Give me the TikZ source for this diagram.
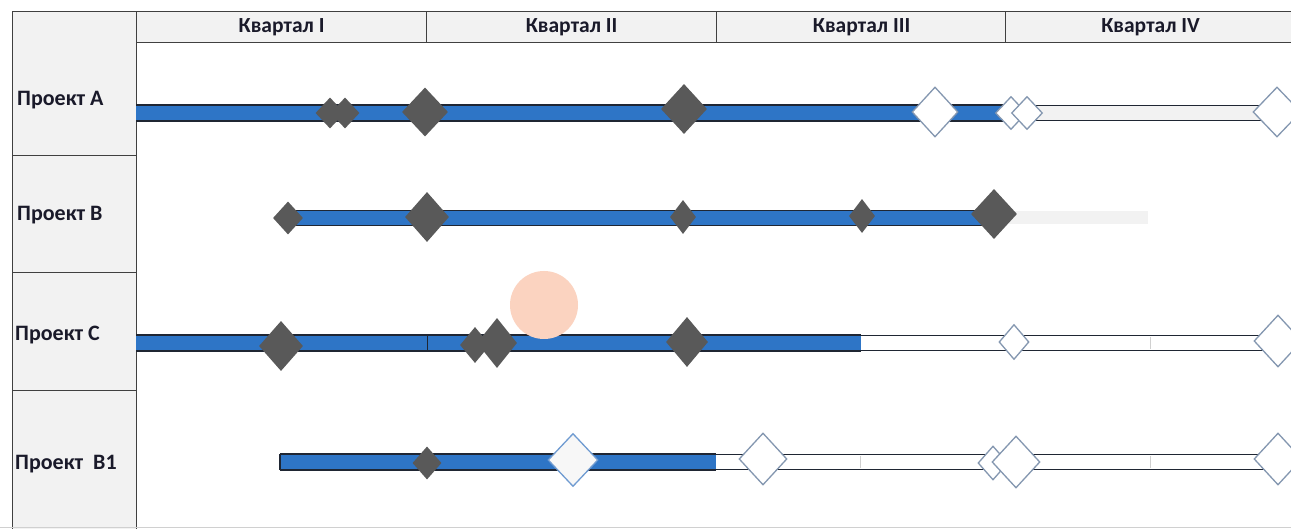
\documentclass[tikz,border=0pt]{standalone}
\usepackage{fontspec}
\setmainfont{Carlito}
\usetikzlibrary{shapes.geometric}
\definecolor{cellgray}{HTML}{F2F2F2}
\definecolor{edge}{HTML}{404040}
\definecolor{barblue}{HTML}{2E75C6}
\definecolor{barline}{HTML}{1F2633}
\definecolor{dgray}{HTML}{595959}
\definecolor{wblue}{HTML}{8497B0}
\definecolor{wblue2}{HTML}{6F9BD1}
\definecolor{lightbar}{HTML}{F2F2F2}
\definecolor{peach}{HTML}{FBD3C0}
\definecolor{tick}{HTML}{D0D0D0}
\definecolor{txt}{HTML}{1A1A2A}
\tikzset{
  hdr/.style={draw=edge, line width=1.2pt, fill=cellgray, minimum width=290pt, minimum height=31pt, inner sep=0pt, anchor=north west, text=txt, font=\bfseries\fontsize{21.5}{21.5}\selectfont},
  lblcell/.style={draw=edge, line width=1.2pt, fill=cellgray, minimum width=124pt, inner sep=0pt, anchor=north west},
  lbltext/.style={anchor=west, inner sep=0pt, text=txt, font=\bfseries\fontsize{22}{22}\selectfont},
  barout/.style={draw=barline, line width=1.8pt, inner sep=0pt, anchor=west, minimum height=15pt},
  barfill/.style={fill=barblue, inner sep=0pt, anchor=west, minimum height=15pt},
  dd/.style={diamond, fill=dgray, inner sep=0pt},
  wd/.style={diamond, fill=white, draw=wblue, line width=1.3pt, inner sep=0pt},
  ds/.style 2 args={minimum width=#1pt, minimum height=#2pt},
}
\begin{document}
\begin{tikzpicture}[x=1pt,y=-1pt]
\useasboundingbox (0,0) rectangle (1291,529);
\clip (0,0) rectangle (1291,529);
\fill[white] (0,0) rectangle (1291,529);
% header
\node[hdr] (q1) at (136,11) {Квартал I};
\node[hdr] (q2) at (426,11) {Квартал II};
\node[hdr] (q3) at (716,11) {Квартал III};
\node[hdr] (q4) at (1005,11) {Квартал IV};
% label column
\node[lblcell, minimum height=144pt] (ca) at (12,11) {};
\node[lblcell, minimum height=117pt] (cb) at (12,155) {};
\node[lblcell, minimum height=118pt] (cc) at (12,272) {};
\node[lblcell, minimum height=150pt] (cd) at (12,390) {};
\node[lbltext] (ta) at (17,100) {Проект А};
\node[lbltext] (tb) at (17,215) {Проект B};
\node[lbltext] (tc) at (15,335) {Проект C};
\node[lbltext] (td) at (15,464) {Проект\ \ B1};
\draw[tick, line width=0.8pt] (0,527) -- (1291,527);
% Row A
\node[barout, fill=lightbar, minimum width=1130pt] (barA) at (136,113) {};
\node[barfill, minimum width=869pt] (blueA) at (136,113) {};
\draw[barline, line width=1.8pt] (blueA.north west) -- (blueA.north east) (blueA.south west) -- (blueA.south east);
% Row B
\fill[lightbar] (993,211) rectangle (1148,224);
\node[barout, fill=barblue, minimum width=705pt] (barB) at (288,218) {};
% Row C
\node[barout, fill=white, minimum width=1142pt] (barC) at (136,343) {};
\node[barfill, minimum width=725pt] (blueC) at (136,343) {};
\draw[barline, line width=1.8pt] (blueC.north west) -- (blueC.north east) (blueC.south west) -- (blueC.south east);
\draw[barline, line width=1pt] (427,336) -- (427,350);
\draw[tick, line width=0.8pt] (1150,337) -- (1150,349);
% Row B1
\node[barout, fill=white, minimum width=998pt] (barD) at (280,462) {};
\node[barfill, minimum width=436pt] (blueD) at (280,462) {};
\draw[barline, line width=1.8pt] (blueD.north west) -- (blueD.north east) (blueD.south west) -- (blueD.south east) (blueD.north west) -- (blueD.south west);
\draw[tick, line width=0.8pt] (860,456) -- (860,468) (1150,456) -- (1150,468);
% circle
\node[circle, fill=peach, minimum size=68pt, inner sep=0pt] (pc) at (544,305) {};
% Row A diamonds
\node[dd, ds={29}{31}] (a1) at (330,113) {};
\node[dd, ds={29}{31}] (a2) at (345,113) {};
\node[dd, ds={46}{49}] (a3) at (425,112) {};
\node[dd, ds={46}{50}] (a4) at (684,109) {};
\node[wd, ds={46}{50}] (a5) at (935,112) {};
\node[wd, ds={31}{33}] (a6) at (1011,113) {};
\node[wd, ds={31}{33}] (a7) at (1027,113) {};
\node[wd, ds={48}{50}] (a8) at (1277,112) {};
% Row B diamonds
\node[dd, ds={30}{33}] (b1) at (288,218) {};
\node[dd, ds={44}{50}] (b2) at (427,217) {};
\node[dd, ds={26}{34}] (b3) at (683,217) {};
\node[dd, ds={26}{34}] (b4) at (862,216) {};
\node[dd, ds={46}{50}] (b5) at (994,214) {};
% Row C diamonds
\node[dd, ds={44}{50}] (c1) at (281,346) {};
\node[dd, ds={30}{36}] (c2) at (475,345) {};
\node[dd, ds={40}{50}] (c3) at (497,343) {};
\node[dd, ds={42}{50}] (c4) at (687,342) {};
\node[wd, ds={30}{35}] (c5) at (1014,342) {};
\node[wd, ds={48}{52}] (c6) at (1278,341) {};
% Row B1 diamonds
\node[dd, ds={29}{33}] (d1) at (427,463) {};
\node[wd, draw=wblue2, fill=cellgray!60, ds={50}{53}] (d2) at (573,460) {};
\node[wd, ds={48}{52}] (d3) at (763,459) {};
\node[wd, ds={30}{34}] (d4) at (993,463) {};
\node[wd, ds={48}{52}] (d5) at (1016,462) {};
\node[wd, ds={48}{52}] (d6) at (1278,459) {};
\end{tikzpicture}
\end{document}
